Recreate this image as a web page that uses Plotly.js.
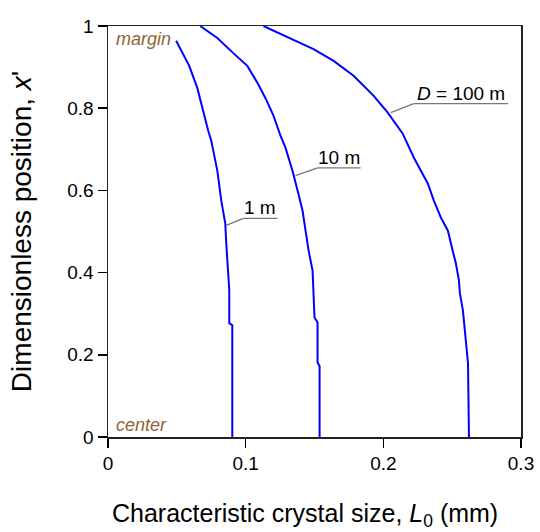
<!DOCTYPE html>
<html><head><meta charset="utf-8">
<script src="https://cdn.plot.ly/plotly-3.0.1.min.js"></script>
<style>html,body{margin:0;padding:0;background:#fff}</style>
</head><body><div id="chart" style="width:540px;height:532px"></div>
<script>
// Data
const size1m = [0.0495,0.059,0.0648,0.0692,0.0728,0.075,0.0794,0.0823,0.0852,0.0859,0.0874,0.0881,0.0881,0.0903,0.0903];
const pos1m  = [0.964,0.903,0.850,0.789,0.745,0.721,0.648,0.575,0.519,0.471,0.398,0.357,0.277,0.272,0.0];
const size10m = [0.067,0.0794,0.091,0.1012,0.1085,0.1143,0.1202,0.1253,0.1289,0.134,0.1377,0.1413,0.1435,0.1457,0.1486,0.1493,0.150,0.1522,0.1522,0.1537,0.1537];
const pos10m  = [1.0,0.971,0.934,0.903,0.862,0.825,0.782,0.733,0.704,0.648,0.600,0.551,0.502,0.454,0.405,0.357,0.291,0.279,0.182,0.172,0.0];
const size100m = [0.1129,0.1253,0.1347,0.1493,0.1639,0.1784,0.193,0.2032,0.2141,0.2221,0.2323,0.2367,0.2418,0.2469,0.2491,0.2527,0.2549,0.2556,0.2578,0.2593,0.2615,0.2622];
const pos100m  = [1.0,0.981,0.968,0.944,0.915,0.879,0.830,0.789,0.738,0.680,0.617,0.575,0.534,0.502,0.471,0.422,0.381,0.350,0.308,0.252,0.180,0.0];
const xTicks = [0, 0.1, 0.2, 0.3];
const xTickText = ['0', '0.1', '0.2', '0.3'];
const yTicks = [0, 0.2, 0.4, 0.6, 0.8, 1];
const yTickText = ['0', '0.2', '0.4', '0.6', '0.8', '1'];
const curveLabels = ['1 m', '10 m', '<i>D</i> = 100 m'];
const xTitle = 'Characteristic crystal size, <i>L</i><sub>0</sub> (mm)';
const yTitle = "Dimensionless position, <i>x</i>'";
// label underline: [x0, x1, y] and leader start [x, y]
const underlines = [[0.0983,0.1231,0.532],[0.1522,0.1835,0.655],[0.2221,0.2906,0.811]];
const leaders = [[0.0859,0.515],[0.1362,0.636],[0.2054,0.789]];

const font = 'Liberation Sans, Arial, sans-serif';
const mk = (x,y)=>({x:x,y:y,type:'scatter',mode:'lines',line:{color:'#0000ff',width:2},hoverinfo:'skip'});
const traces = [mk(size1m,pos1m), mk(size10m,pos10m), mk(size100m,pos100m)];

const shapes = [];
const annotations = [];
underlines.forEach((u,i)=>{
  shapes.push({type:'line',xref:'x',yref:'y',x0:u[0],x1:u[1],y0:u[2],y1:u[2],line:{color:'#777',width:1.3}});
  shapes.push({type:'line',xref:'x',yref:'y',x0:leaders[i][0],y0:leaders[i][1],x1:u[0],y1:u[2],line:{color:'#777',width:1.3}});
  annotations.push({x:(u[0]+u[1])/2,y:u[2],xref:'x',yref:'y',text:curveLabels[i],showarrow:false,yanchor:'bottom',yshift:-2,font:{family:font,size:19,color:'#000'}});
});
annotations.push({x:0.004,y:0.998,xref:'x',yref:'y',text:'<i>margin</i>',showarrow:false,xanchor:'left',yanchor:'top',font:{family:font,size:18,color:'#8f6434'}});
annotations.push({x:0.004,y:0.0,xref:'x',yref:'y',text:'<i>center</i>',showarrow:false,xanchor:'left',yanchor:'bottom',font:{family:font,size:18,color:'#8f6434'}});
annotations.push({x:0.477,y:-0.19,xref:'paper',yref:'paper',text:xTitle,showarrow:false,xanchor:'center',yanchor:'middle',font:{family:font,size:25,color:'#000'}});

const layout = {
  width:540,height:532,
  margin:{l:108,r:19,t:26,b:95},
  paper_bgcolor:'#fff',plot_bgcolor:'#fff',
  showlegend:false,
  font:{family:font,size:19,color:'#000'},
  xaxis:{range:[0,0.3],tickvals:xTicks,ticktext:xTickText,ticks:'outside',ticklen:9,tickwidth:1.5,tickcolor:'#000',
    showline:true,linecolor:'#222',linewidth:1.5,mirror:true,showgrid:false,zeroline:false,
    tickfont:{family:font,size:19}},
  yaxis:{range:[0,1],tickvals:yTicks,ticktext:yTickText,ticks:'outside',ticklen:9,tickwidth:1.5,tickcolor:'#000',
    showline:true,linecolor:'#222',linewidth:1.5,mirror:true,showgrid:false,zeroline:false,
    tickfont:{family:font,size:19},
    title:{text:yTitle,font:{family:font,size:28},standoff:27}},
  shapes:shapes,annotations:annotations
};
Plotly.newPlot('chart',traces,layout,{displayModeBar:false,staticPlot:true});
</script></body></html>
